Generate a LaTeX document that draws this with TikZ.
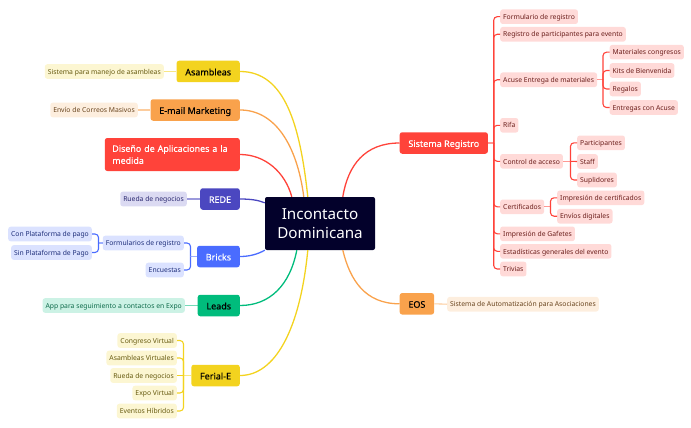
\documentclass[tikz,border=0pt]{standalone}
\usepackage{fontspec}
\setmainfont{Noto Sans}
\newfontfamily\topicfont[FakeBold=0.25]{Noto Sans}
\newcommand\lowstrut{\rule[-0.2\baselineskip]{0pt}{\baselineskip}}

\definecolor{redmain}{HTML}{FF433A}
\definecolor{redpale}{HTML}{FFDAD8}
\definecolor{redink}{HTML}{6B1E1B}
\definecolor{orangemain}{HTML}{F9A24C}
\definecolor{orangepale}{HTML}{FDEEDE}
\definecolor{orangeink}{HTML}{69451F}
\definecolor{yellowmain}{HTML}{F3D31F}
\definecolor{yellowpale}{HTML}{FCF6D2}
\definecolor{yellowink}{HTML}{665A10}
\definecolor{purplemain}{HTML}{4B47C0}
\definecolor{purplepale}{HTML}{DBDAF2}
\definecolor{purpleink}{HTML}{2A2870}
\definecolor{bluemain}{HTML}{4A6CFF}
\definecolor{bluepale}{HTML}{DBE2FF}
\definecolor{blueink}{HTML}{1F2F7A}
\definecolor{greenmain}{HTML}{00BC7C}
\definecolor{greenpale}{HTML}{CCF2E5}
\definecolor{greenink}{HTML}{0E6B4B}
\definecolor{hubfill}{HTML}{03012B}

\tikzset{
	hubbox/.style={fill=hubfill, text=white, rounded corners=2, minimum width=110, minimum height=53, align=center, font=\fontsize{15.2}{19.5}\selectfont},
	topic/.style={fill=#1main, rounded corners=2.5, minimum height=21.5, inner xsep=8.7, inner ysep=0, font=\topicfont\fontsize{9}{13}\selectfont\lowstrut},
	leaf/.style={fill=#1pale, text=#1ink, rounded corners=2.5, minimum height=14.6, inner xsep=3, inner ysep=0, font=\fontsize{6.8}{9}\selectfont\lowstrut},
	branch/.style={draw=#1main, line width=1.1, rounded corners=3.5},
	stem/.style={draw=#1main, line width=1.1, opacity=0.55},
	curve/.style={draw=#1main, line width=1.3}
}

\begin{document}
\begin{tikzpicture}[x=1pt,y=-1pt]
	\useasboundingbox (0,0) rectangle (691,428);

	\node[hubbox] (hub) at (320,223.5) {Incontacto\\Dominicana};

	% left side
	\node[topic=yellow, anchor=east] (asambleas) at (240,71.5) {Asambleas};
	\node[leaf=yellow, anchor=east] (manejo) at (164,71.5) {Sistema para manejo de asambleas};
	\node[topic=orange, anchor=east] (email) at (240,110) {E-mail Marketing};
	\node[leaf=orange, anchor=east] (correos) at (138,110) {Envío de Correos Masivos};
	\node[topic=red, anchor=east, text=white, align=left, minimum height=33, text width=120, inner xsep=7.5, font=\topicfont\fontsize{8.9}{12}\selectfont] (diseno) at (240,154.5) {Diseño de Aplicaciones a la\\medida};
	\node[topic=purple, anchor=east, text=white] (rede) at (240,199) {REDE};
	\node[leaf=purple, anchor=east] (rueda) at (187,199) {Rueda de negocios};
	\node[topic=blue, anchor=east, text=white] (bricks) at (240,256.5) {Bricks};
	\node[leaf=blue, anchor=east] (formularios) at (184,243) {Formularios de registro};
	\node[leaf=blue, anchor=east] (encuestas) at (184,270) {Encuestas};
	\node[leaf=blue, anchor=east] (conpago) at (92,234) {Con Plataforma de pago};
	\node[leaf=blue, anchor=east] (sinpago) at (92,252.5) {Sin Plataforma de Pago};
	\node[topic=green, anchor=east] (leads) at (240,305.5) {Leads};
	\node[leaf=green, anchor=east] (seguimiento) at (185,305.5) {App para seguimiento a contactos en Expo};
	\node[topic=yellow, anchor=east] (ferial) at (240,375.5) {Ferial-E};
	\node[leaf=yellow, anchor=east] (congreso) at (177,340.5) {Congreso Virtual};
	\node[leaf=yellow, anchor=east] (virtuales) at (177,358) {Asambleas Virtuales};
	\node[leaf=yellow, anchor=east] (negocios) at (177,375.5) {Rueda de negocios};
	\node[leaf=yellow, anchor=east] (expo) at (177,393) {Expo Virtual};
	\node[leaf=yellow, anchor=east] (hibridos) at (177,411) {Eventos Híbridos};

	% right side
	\node[topic=red, anchor=west, text=white] (sistema) at (399.5,143) {Sistema Registro};
	\node[leaf=red, anchor=west] (formreg) at (500,16.7) {Formulario de registro};
	\node[leaf=red, anchor=west] (participantes) at (500,34.3) {Registro de participantes para evento};
	\node[leaf=red, anchor=west] (acuse) at (500,79.8) {Acuse Entrega de materiales};
	\node[leaf=red, anchor=west] (materiales) at (609.5,52.2) {Materiales congresos};
	\node[leaf=red, anchor=west] (kits) at (609.5,70.5) {Kits de Bienvenida};
	\node[leaf=red, anchor=west] (regalos) at (609.5,89) {Regalos};
	\node[leaf=red, anchor=west] (entregas) at (609.5,107.5) {Entregas con Acuse};
	\node[leaf=red, anchor=west] (rifa) at (500,125.3) {Rifa};
	\node[leaf=red, anchor=west] (control) at (500,161.3) {Control de acceso};
	\node[leaf=red, anchor=west] (partic) at (577,142.8) {Participantes};
	\node[leaf=red, anchor=west] (staff) at (577,161.5) {Staff};
	\node[leaf=red, anchor=west] (suplidores) at (577,180) {Suplidores};
	\node[leaf=red, anchor=west] (certificados) at (500,206.8) {Certificados};
	\node[leaf=red, anchor=west] (impcert) at (557,197.8) {Impresión de certificados};
	\node[leaf=red, anchor=west] (envios) at (557,216.2) {Envíos digitales};
	\node[leaf=red, anchor=west] (gafetes) at (500,233.8) {Impresión de Gafetes};
	\node[leaf=red, anchor=west] (estadisticas) at (500,251.3) {Estadísticas generales del evento};
	\node[leaf=red, anchor=west] (trivias) at (500,269) {Trivias};
	\node[topic=orange, anchor=west] (eos) at (399.5,303.8) {EOS};
	\node[leaf=orange, anchor=west] (automatizacion) at (447,304.2) {Sistema de Automatización para Asociaciones};

	% joints
	\coordinate (bricksjoint) at (190.5,256.5);
	\coordinate (formjoint) at (98.5,243);
	\coordinate (ferialjoint) at (183.5,375.5);
	\coordinate (sistemajoint) at (493.7,143);
	\coordinate (acusejoint) at (603,79.8);
	\coordinate (controljoint) at (570.5,161.3);
	\coordinate (certjoint) at (550.5,206.8);

	% hub links
	\draw[curve=yellow] (asambleas.east) .. controls (285,71.5) and (300,125) .. ([xshift=43]hub.north west);
	\draw[curve=orange] (email.east) .. controls (275,110) and (297,145) .. ([xshift=39]hub.north west);
	\draw[curve=red] (diseno.east) .. controls (265,154.5) and (285,172) .. ([xshift=27]hub.north west);
	\draw[curve=purple] (rede.east) .. controls (250,199) and (258,200) .. ([yshift=-6]hub.north west);
	\draw[curve=blue] (bricks.east) .. controls (250,256.5) and (258,254) .. (hub.south west);
	\draw[curve=green] (leads.east) .. controls (270,305.5) and (290,285) .. ([xshift=32]hub.south west);
	\draw[curve=yellow] (ferial.east) .. controls (275,375.5) and (300,330) .. ([xshift=43]hub.south west);
	\draw[curve=red] (sistema.west) .. controls (365,143) and (348,165) .. ([xshift=78]hub.north west);
	\draw[curve=orange] (eos.west) .. controls (365,303.8) and (350,280) .. ([xshift=78]hub.south west);

	% single leaves
	\draw[stem=yellow] (asambleas.west) -- (manejo.east);
	\draw[stem=orange] (email.west) -- (correos.east);
	\draw[stem=purple] (rede.west) -- (rueda.east);
	\draw[stem=green] (leads.west) -- (seguimiento.east);
	\draw[stem=orange] (eos.east) -- (automatizacion.west);

	% bricks
	\draw[stem=blue] (bricks.west) -- (bricksjoint);
	\draw[branch=blue] (bricksjoint) |- (formularios.east);
	\draw[branch=blue] (bricksjoint) |- (encuestas.east);
	\draw[stem=blue] (formularios.west) -- (formjoint);
	\draw[branch=blue] (formjoint) |- (conpago.east);
	\draw[branch=blue] (formjoint) |- (sinpago.east);

	% ferial
	\draw[stem=yellow] (ferial.west) -- (ferialjoint);
	\draw[branch=yellow] (ferialjoint) |- (congreso.east);
	\draw[branch=yellow] (ferialjoint) |- (virtuales.east);
	\draw[branch=yellow] (ferialjoint) -- (negocios.east);
	\draw[branch=yellow] (ferialjoint) |- (expo.east);
	\draw[branch=yellow] (ferialjoint) |- (hibridos.east);

	% sistema
	\draw[stem=red] (sistema.east) -- (sistemajoint);
	\draw[branch=red] (sistemajoint) |- (formreg.west);
	\draw[branch=red] (sistemajoint) |- (participantes.west);
	\draw[branch=red] (sistemajoint) |- (acuse.west);
	\draw[branch=red] (sistemajoint) |- (rifa.west);
	\draw[branch=red] (sistemajoint) |- (control.west);
	\draw[branch=red] (sistemajoint) |- (certificados.west);
	\draw[branch=red] (sistemajoint) |- (gafetes.west);
	\draw[branch=red] (sistemajoint) |- (estadisticas.west);
	\draw[branch=red] (sistemajoint) |- (trivias.west);
	\draw[stem=red] (acuse.east) -- (acusejoint);
	\draw[branch=red] (acusejoint) |- (materiales.west);
	\draw[branch=red] (acusejoint) |- (kits.west);
	\draw[branch=red] (acusejoint) |- (regalos.west);
	\draw[branch=red] (acusejoint) |- (entregas.west);
	\draw[stem=red] (control.east) -- (controljoint);
	\draw[branch=red] (controljoint) |- (partic.west);
	\draw[branch=red] (controljoint) -- (staff.west);
	\draw[branch=red] (controljoint) |- (suplidores.west);
	\draw[stem=red] (certificados.east) -- (certjoint);
	\draw[branch=red] (certjoint) |- (impcert.west);
	\draw[branch=red] (certjoint) |- (envios.west);
\end{tikzpicture}
\end{document}
